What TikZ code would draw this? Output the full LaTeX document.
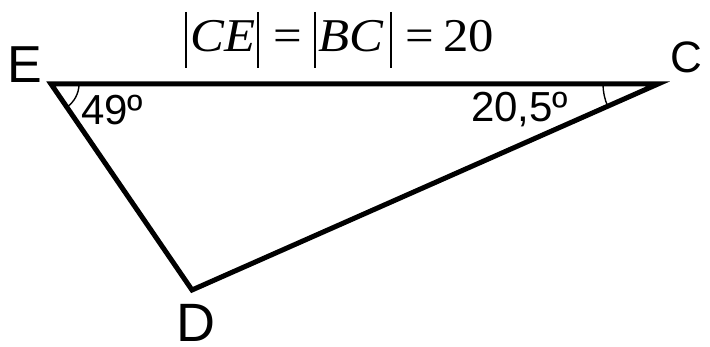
\documentclass[tikz,border=0pt]{standalone}
\usepackage{graphicx}
\usepackage{fontspec}
\newfontfamily\sansf{Liberation Sans}
\newfontfamily\seriff{Liberation Serif}
\newcommand{\fwide}[1]{\scalebox{1.08}[1]{#1}}
\begin{document}
\begin{tikzpicture}[x=1pt,y=1pt,
  tri/.style={line width=5pt,line join=miter},
  angarc/.style={line width=1.4pt},
  bar/.style={line width=1.5pt},
  vlabel/.style={inner sep=0pt,anchor=base west,font=\sansf},
  flabel/.style={inner sep=0pt,anchor=base west,font=\seriff\fontsize{47}{47}\selectfont}]
\useasboundingbox (0,0) rectangle (710,347);
\coordinate (E) at (51,263);
\coordinate (C) at (658,263);
\coordinate (D) at (192,57);
\draw[tri] (E) -- (C) -- (D) -- cycle;
% angle arcs
\draw[angarc] ([shift={(0:28)}]E) arc[start angle=0,end angle=-55.6,radius=28];
\draw[angarc] ([shift={(180:55)}]C) arc[start angle=180,end angle=203.8,radius=55];
% vertex labels
\node[vlabel,font=\sansf\fontsize{52}{52}\selectfont] (lE) at (7,264) {E};
\node[vlabel,font=\sansf\fontsize{44}{44}\selectfont] (lC) at (670,274) {C};
\node[vlabel,font=\sansf\fontsize{54}{54}\selectfont] (lD) at (176,5) {D};
% angle labels
\node[vlabel,font=\sansf\fontsize{42}{42}\selectfont] (a49) at (81,222) {49º};
\node[vlabel,font=\sansf\fontsize{42}{42}\selectfont] (a20) at (471,225) {20,5º};
% formula
\coordinate (b1t) at (186,335); \coordinate (b1b) at (186,279);
\coordinate (b2t) at (258,335); \coordinate (b2b) at (258,279);
\coordinate (b3t) at (315,335); \coordinate (b3b) at (315,279);
\coordinate (b4t) at (391,335); \coordinate (b4b) at (391,279);
\draw[bar] (b1t) -- (b1b);
\draw[bar] (b2t) -- (b2b);
\draw[bar] (b3t) -- (b3b);
\draw[bar] (b4t) -- (b4b);
\node[flabel] (fCE) at (190,295) {\fwide{\itshape CE}};
\node[flabel] (feq1) at (273,295) {\fwide{=}};
\node[flabel] (fBC) at (318,295) {\fwide{\itshape BC}};
\node[flabel] (feq2) at (405,295) {\fwide{=}};
\node[flabel] (f20) at (443,295) {\fwide{20}};
\end{tikzpicture}
\end{document}
